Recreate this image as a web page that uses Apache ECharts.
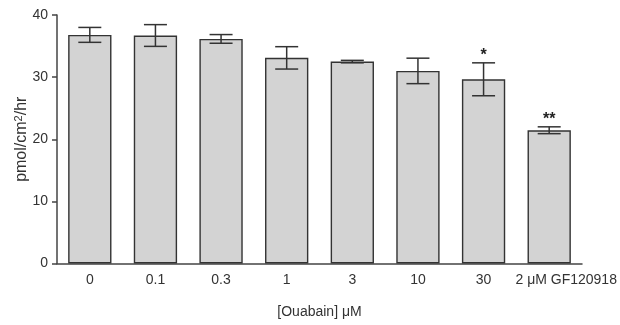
<!DOCTYPE html>
<html><head><meta charset="utf-8">
<script src="https://cdn.jsdelivr.net/npm/echarts@6/dist/echarts.min.js"></script>
<style>html,body{margin:0;padding:0;background:#fff}#c{width:620px;height:325px}</style>
</head><body><div id="c"></div>
<script>
const categories = ['0', '0.1', '0.3', '1', '3', '10', '30', '2 \u03bcM GF120918'];
const means = [36.8, 36.7, 36.15, 33.1, 32.5, 31.0, 29.65, 21.45];
const errors = [1.2, 1.75, 0.7, 1.8, 0.2, 2.05, 2.65, 0.55];
const significance = ['', '', '', '', '', '', '*', '**'];
const yTicks = [0, 10, 20, 30, 40];

const chart = echarts.init(document.getElementById('c'));
const axisColor = '#444';
const font = 'Liberation Sans, Arial, sans-serif';
const catData = categories.map((c, i) => i === categories.length - 1
  ? {value: c, textStyle: {padding: [0, 0, 0, 34]}} : c);
chart.setOption({
  animation: false,
  grid: {left: 57, right: 38, top: 15, bottom: 61.5, containLabel: false, outerBoundsMode: 'none'},
  xAxis: {
    type: 'category', data: catData,
    axisLine: {lineStyle: {color: axisColor, width: 1.5}},
    axisTick: {alignWithLabel: true, length: 5, lineStyle: {color: axisColor, width: 1.5}},
    axisLabel: {color: '#333', fontSize: 14, fontFamily: font, margin: 10, interval: 0},
    name: '[Ouabain] \u03bcM', nameLocation: 'middle', nameGap: 42, nameMoveOverlap: false,
    nameTextStyle: {color: '#333', fontSize: 14, fontFamily: font}
  },
  yAxis: {
    type: 'value', min: yTicks[0], max: yTicks[yTicks.length - 1], interval: 10,
    splitLine: {show: false},
    axisLine: {show: true, lineStyle: {color: axisColor, width: 1.5}},
    axisTick: {show: true, length: 5, lineStyle: {color: axisColor, width: 1.5}},
    axisLabel: {color: '#333', fontSize: 14, fontFamily: font, margin: 9},
    name: 'pmol/cm{sup|2}/hr', nameLocation: 'middle', nameGap: 26, nameRotate: 90, nameMoveOverlap: false,
    nameTextStyle: {color: '#333', fontSize: 16, fontFamily: font,
      rich: {sup: {fontSize: 11, color: '#333', fontFamily: font, verticalAlign: 'top', padding: [0, 0, 7, 0]}}}
  },
  series: [
    {
      type: 'bar', data: means, barWidth: '66%',
      itemStyle: {color: '#d3d3d3', borderColor: '#333', borderWidth: 1.4}
    },
    {
      type: 'custom',
      data: means.map((m, i) => [i, m - errors[i], m + errors[i]]),
      renderItem: function (params, api) {
        const i = api.value(0);
        const lo = api.coord([i, api.value(1)]);
        const hi = api.coord([i, api.value(2)]);
        const x = lo[0];
        const hw = 11.5;
        const style = {stroke: '#333', lineWidth: 1.5};
        const children = [
          {type: 'line', shape: {x1: x, y1: lo[1], x2: x, y2: hi[1]}, style},
          {type: 'line', shape: {x1: x - hw, y1: lo[1], x2: x + hw, y2: lo[1]}, style},
          {type: 'line', shape: {x1: x - hw, y1: hi[1], x2: x + hw, y2: hi[1]}, style}
        ];
        const s = significance[params.dataIndex];
        if (s) {
          children.push({type: 'text', style: {text: s, x: x, y: hi[1] + 1, align: 'center', verticalAlign: 'bottom',
            fill: '#222', fontSize: 16, fontWeight: 'bold', fontFamily: font}});
        }
        return {type: 'group', children};
      },
      z: 5
    }
  ]
});
</script></body></html>
